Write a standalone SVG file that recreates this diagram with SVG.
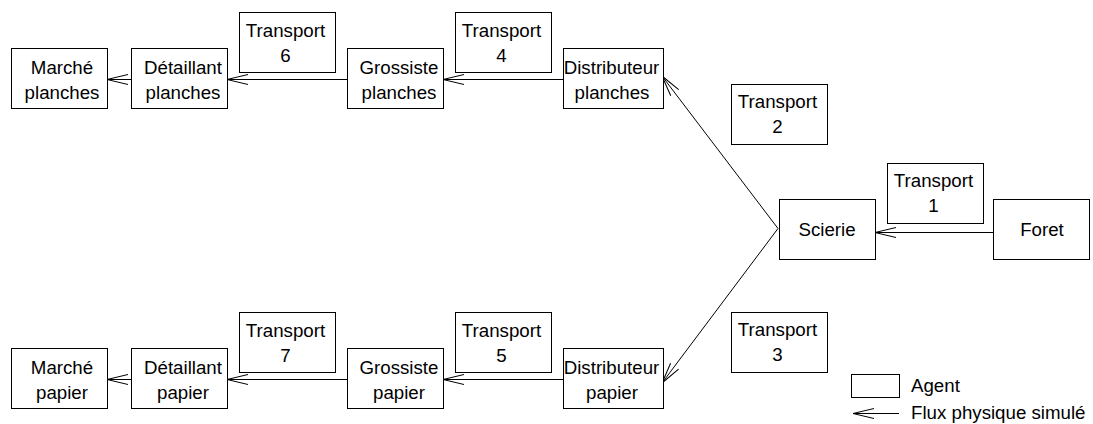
<svg xmlns="http://www.w3.org/2000/svg" width="1093" height="424" viewBox="0 0 1093 424">
  <style>
    .box { fill: #ffffff; stroke: #000000; stroke-width: 1; }
    .lbl { font-family: "Liberation Sans", Arial, Helvetica, sans-serif; font-size: 18.7px; fill: #000000; text-anchor: middle; }
    .leg { font-family: "Liberation Sans", Arial, Helvetica, sans-serif; font-size: 18.7px; fill: #000000; }
    .flow { fill: none; stroke: #000000; stroke-width: 1; marker-end: url(#open); }
  </style>
  <defs>
    <marker id="open" markerUnits="userSpaceOnUse" viewBox="-23 -7 24 14" markerWidth="24" markerHeight="14" refX="0" refY="0" orient="auto" overflow="visible">
      <path d="M-21,-5 L0,0 L-21,5" fill="none" stroke="#000000" stroke-width="1"/>
    </marker>
  </defs>
  <rect width="1093" height="424" fill="#ffffff"/>

  <!-- physical flows -->
  <g id="connectors">
    <line class="flow" x1="993" y1="232.5" x2="875" y2="232.5"/>
    <line class="flow" x1="778" y1="228.5" x2="662" y2="76"/>
    <line class="flow" x1="778" y1="228.5" x2="662" y2="383"/>
    <line class="flow" x1="563" y1="79.5" x2="443" y2="79.5"/>
    <line class="flow" x1="347" y1="79.5" x2="227" y2="79.5"/>
    <line class="flow" x1="131" y1="79.5" x2="107" y2="79.5"/>
    <line class="flow" x1="563" y1="379.5" x2="443" y2="379.5"/>
    <line class="flow" x1="347" y1="379.5" x2="227" y2="379.5"/>
    <line class="flow" x1="131" y1="379.5" x2="107" y2="379.5"/>
  </g>

  <!-- planches branch -->
  <g id="marche-planches">
    <rect class="box" x="11.5" y="48.5" width="96" height="60"/>
    <text class="lbl" x="62" y="74">Marché</text>
    <text class="lbl" x="62" y="99">planches</text>
  </g>
  <g id="detaillant-planches">
    <rect class="box" x="131.5" y="48.5" width="96" height="60"/>
    <text class="lbl" x="183" y="74">Détaillant</text>
    <text class="lbl" x="183" y="99">planches</text>
  </g>
  <g id="transport-6">
    <rect class="box" x="239.5" y="12.5" width="96" height="60"/>
    <text class="lbl" x="285.5" y="37">Transport</text>
    <text class="lbl" x="285.5" y="62">6</text>
  </g>
  <g id="grossiste-planches">
    <rect class="box" x="347.5" y="48.5" width="96" height="60"/>
    <text class="lbl" x="399" y="74">Grossiste</text>
    <text class="lbl" x="399" y="99">planches</text>
  </g>
  <g id="transport-4">
    <rect class="box" x="455.5" y="12.5" width="96" height="60"/>
    <text class="lbl" x="501.5" y="37">Transport</text>
    <text class="lbl" x="501.5" y="62">4</text>
  </g>
  <g id="distributeur-planches">
    <rect class="box" x="563.5" y="48.5" width="100" height="60"/>
    <text class="lbl" x="611.5" y="74">Distributeur</text>
    <text class="lbl" x="612" y="99">planches</text>
  </g>

  <!-- upstream -->
  <g id="transport-2">
    <rect class="box" x="731.5" y="84.5" width="96" height="60"/>
    <text class="lbl" x="777.5" y="108">Transport</text>
    <text class="lbl" x="777.5" y="133">2</text>
  </g>
  <g id="transport-1">
    <rect class="box" x="887.5" y="163.5" width="96" height="60"/>
    <text class="lbl" x="933.5" y="187">Transport</text>
    <text class="lbl" x="933.5" y="212">1</text>
  </g>
  <g id="scierie">
    <rect class="box" x="779.5" y="199.5" width="96" height="60"/>
    <text class="lbl" x="827" y="235.5">Scierie</text>
  </g>
  <g id="foret">
    <rect class="box" x="993.5" y="199.5" width="96" height="60"/>
    <text class="lbl" x="1042" y="235.5">Foret</text>
  </g>
  <g id="transport-3">
    <rect class="box" x="731.5" y="312.5" width="96" height="60"/>
    <text class="lbl" x="777.5" y="336">Transport</text>
    <text class="lbl" x="777.5" y="361">3</text>
  </g>

  <!-- papier branch -->
  <g id="marche-papier">
    <rect class="box" x="11.5" y="348.5" width="96" height="60"/>
    <text class="lbl" x="62" y="374">Marché</text>
    <text class="lbl" x="62" y="399">papier</text>
  </g>
  <g id="detaillant-papier">
    <rect class="box" x="131.5" y="348.5" width="96" height="60"/>
    <text class="lbl" x="183" y="374">Détaillant</text>
    <text class="lbl" x="183" y="399">papier</text>
  </g>
  <g id="transport-7">
    <rect class="box" x="239.5" y="312.5" width="96" height="60"/>
    <text class="lbl" x="285.5" y="337">Transport</text>
    <text class="lbl" x="285.5" y="362">7</text>
  </g>
  <g id="grossiste-papier">
    <rect class="box" x="347.5" y="348.5" width="96" height="60"/>
    <text class="lbl" x="399" y="374">Grossiste</text>
    <text class="lbl" x="399" y="399">papier</text>
  </g>
  <g id="transport-5">
    <rect class="box" x="455.5" y="312.5" width="96" height="60"/>
    <text class="lbl" x="501.5" y="337">Transport</text>
    <text class="lbl" x="501.5" y="362">5</text>
  </g>
  <g id="distributeur-papier">
    <rect class="box" x="563.5" y="348.5" width="100" height="60"/>
    <text class="lbl" x="611.5" y="374">Distributeur</text>
    <text class="lbl" x="612" y="399">papier</text>
  </g>

  <!-- legend -->
  <g id="legend">
    <rect class="box" x="851.5" y="374.5" width="48" height="23"/>
    <text class="leg" x="911" y="392">Agent</text>
    <line class="flow" x1="899" y1="413.5" x2="853" y2="413.5"/>
    <text class="leg" x="911" y="419">Flux physique simulé</text>
  </g>
</svg>
